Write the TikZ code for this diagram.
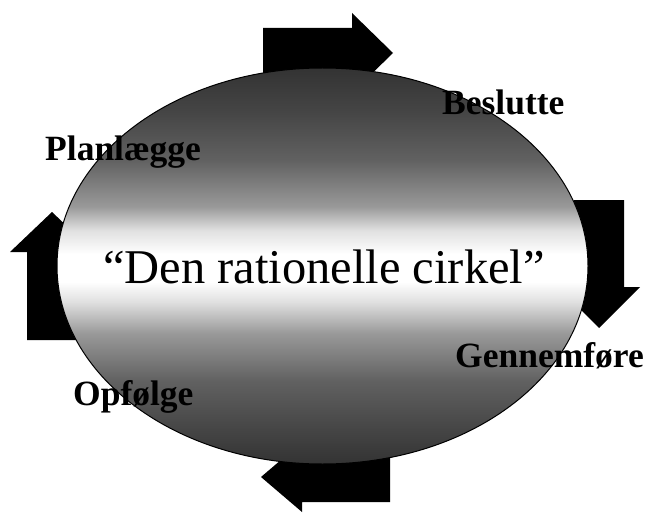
\documentclass[tikz,border=0pt]{standalone}
\usepackage{fontspec}
\setmainfont{Liberation Serif}
\usetikzlibrary{shapes.geometric}
\pgfdeclareverticalshading{ratshade}{100bp}{
  color(0bp)=(black!80);
  color(25bp)=(black!80);
  color(29.3bp)=(black!73);
  color(35.5bp)=(black!62);
  color(41.5bp)=(black!40);
  color(45.5bp)=(black!12);
  color(48bp)=(white);
  color(51.5bp)=(white);
  color(54.5bp)=(black!12);
  color(57.5bp)=(black!40);
  color(63.4bp)=(black!62);
  color(69.5bp)=(black!73);
  color(75bp)=(black!80);
  color(100bp)=(black!80)}
\tikzset{
  bigarrow/.style={fill=black, draw=none},
  steplabel/.style={anchor=base west, font=\bfseries\fontsize{35.5}{38}\selectfont, inner sep=0pt},
  wheel/.style={ellipse, draw=black, line width=1pt, shading=ratshade, inner sep=0pt}
}
\begin{document}
\begin{tikzpicture}[x=1pt,y=1pt]
\useasboundingbox (0,0) rectangle (650,-513);
% arrows (behind the ellipse)
\fill[bigarrow] (263,-28) -- (352,-28) -- (352,-13) -- (393,-53) -- (352,-93) -- (352,-78) -- (263,-78) -- cycle;
\fill[bigarrow] (624,-200) -- (624,-287) -- (640,-287) -- (599,-328) -- (558,-287) -- (574,-287) -- (574,-200) -- cycle;
\fill[bigarrow] (390,-502) -- (302,-502) -- (302,-512) -- (261,-477) -- (302,-442) -- (302,-452) -- (390,-452) -- cycle;
\fill[bigarrow] (27,-340) -- (27,-252) -- (10,-252) -- (52,-212) -- (94,-252) -- (77,-252) -- (77,-340) -- cycle;
% the circle
\node[wheel, minimum width=531pt, minimum height=396pt] (circ) at (322.5,-266) {};
\node[anchor=base, inner sep=0pt, font=\fontsize{48.5}{52}\selectfont] (title) at (324,-283) {“Den rationelle cirkel”};
\node[steplabel] (plan) at (45,-161) {Planlægge};
\node[steplabel] (besl) at (442,-115) {Beslutte};
\node[steplabel] (genn) at (455,-367) {Gennemføre};
\node[steplabel] (opf) at (73,-405) {Opfølge};
\end{tikzpicture}
\end{document}
